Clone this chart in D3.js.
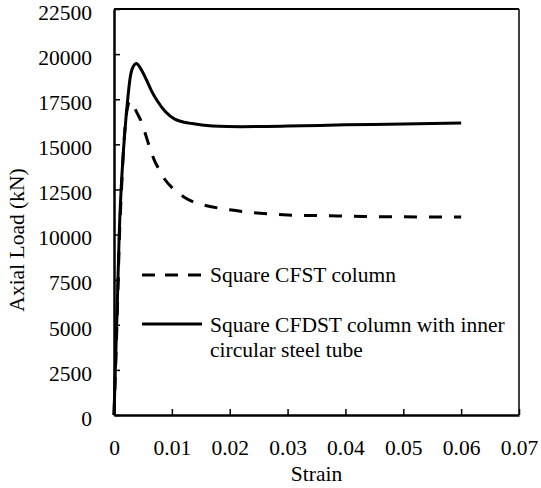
<!DOCTYPE html>
<html>
<head>
<meta charset="utf-8">
<script src="https://cdn.jsdelivr.net/npm/d3@7"></script>
<style>
  html, body { margin: 0; padding: 0; background: #fff; }
  svg { display: block; }
  svg text { font-family: "Liberation Serif", "Times New Roman", Tinos, "DejaVu Serif", serif; fill: #000; }
</style>
</head>
<body>
<svg id="chart" width="541" height="488"></svg>
<script>
// Axial load–strain response of the two column types
const cfstStrain = [0, 0.0006, 0.0009, 0.0013, 0.0017, 0.0022, 0.0028, 0.0033, 0.0038, 0.0048, 0.0055, 0.0062,
  0.007, 0.0078, 0.0088, 0.0102, 0.012, 0.0138, 0.016, 0.018, 0.02, 0.0247, 0.03, 0.0344, 0.0385, 0.043, 0.06];
const cfstLoad = [0, 6000, 9500, 12500, 15000, 16800, 17400, 17250, 16860, 16200, 15500, 14800,
  14100, 13600, 13050, 12550, 12100, 11800, 11600, 11470, 11370, 11200, 11085, 11055, 11030, 11000, 10970];

const cfdstStrain = [0, 0.0006, 0.0009, 0.0012, 0.0015, 0.0019, 0.0024, 0.0028, 0.0033, 0.0039, 0.0045, 0.0055,
  0.0065, 0.0075, 0.0089, 0.0105, 0.0135, 0.017, 0.022, 0.03, 0.04, 0.05, 0.06];
const cfdstLoad = [0, 6500, 10000, 12300, 14000, 15800, 17600, 18700, 19300, 19480, 19250, 18650,
  17950, 17400, 16800, 16400, 16150, 16020, 15980, 16010, 16080, 16130, 16180];

const xTicks = [0, 0.01, 0.02, 0.03, 0.04, 0.05, 0.06, 0.07];
const yTicks = [0, 2500, 5000, 7500, 10000, 12500, 15000, 17500, 20000, 22500];

const seriesNames = ["Square CFST column", "Square CFDST column with inner", "circular steel tube"];

const svg = d3.select("#chart");
const plot = { left: 114, right: 519, top: 9, bottom: 415 };
const serif = '"Liberation Serif", "Times New Roman", Tinos, "DejaVu Serif", serif';

const x = d3.scaleLinear().domain([0, 0.07]).range([plot.left, plot.right]);
const y = d3.scaleLinear().domain([0, 22500]).range([plot.bottom, plot.top]);

const fontSize = 21.5;

// Frame
svg.append("line").attr("x1", plot.left).attr("x2", plot.right).attr("y1", plot.top).attr("y2", plot.top)
  .attr("stroke", "#000").attr("stroke-width", 2);
svg.append("line").attr("x1", plot.right).attr("x2", plot.right).attr("y1", plot.top).attr("y2", plot.bottom)
  .attr("stroke", "#000").attr("stroke-width", 1.5);

// Axes with inward ticks
const xAxis = d3.axisBottom(x).tickValues(xTicks).tickSizeInner(-6).tickSizeOuter(0)
  .tickPadding(25).tickFormat(d => d === 0 ? "0" : d3.format(".2f")(d));
const gx = svg.append("g").attr("transform", `translate(0,${plot.bottom})`).call(xAxis)
  .attr("font-family", serif).attr("font-size", fontSize);
gx.select(".domain").attr("stroke-width", 2.5);
gx.selectAll(".tick line").attr("stroke-width", 1.5);

const yAxis = d3.axisLeft(y).tickValues(yTicks).tickSizeInner(-6).tickSizeOuter(0)
  .tickPadding(22).tickFormat(d3.format("d"));
const gy = svg.append("g").attr("transform", `translate(${plot.left},0)`).call(yAxis)
  .attr("font-family", serif).attr("font-size", fontSize);
gy.select(".domain").attr("stroke-width", 2.5);
gy.selectAll(".tick line").attr("stroke-width", 1.5);
gy.selectAll(".tick text").attr("dy", "0.48em");

// Axis titles
svg.append("text").attr("x", (plot.left + plot.right) / 2).attr("y", 481)
  .attr("text-anchor", "middle").attr("font-size", fontSize).text("Strain");
svg.append("text").attr("transform", "translate(24,240) rotate(-90)")
  .attr("text-anchor", "middle").attr("font-size", fontSize).text("Axial Load (kN)");

// Curves
const line = d3.line().x(d => x(d[0])).y(d => y(d[1])).curve(d3.curveMonotoneX);
const cfst = cfstStrain.map((s, i) => [s, cfstLoad[i]]);
const cfdst = cfdstStrain.map((s, i) => [s, cfdstLoad[i]]);

svg.append("path").datum(cfst).attr("d", line).attr("fill", "none")
  .attr("stroke", "#000").attr("stroke-width", 3).attr("stroke-dasharray", "13,12");
svg.append("path").datum(cfdst).attr("d", line).attr("fill", "none")
  .attr("stroke", "#000").attr("stroke-width", 3);

// Legend
const lg = svg.append("g");
lg.append("line").attr("x1", 142).attr("x2", 202).attr("y1", 275).attr("y2", 275)
  .attr("stroke", "#000").attr("stroke-width", 3).attr("stroke-dasharray", "13,10");
lg.append("text").attr("x", 210).attr("y", 282).attr("font-size", fontSize).text(seriesNames[0]);
lg.append("line").attr("x1", 142).attr("x2", 202).attr("y1", 324).attr("y2", 324)
  .attr("stroke", "#000").attr("stroke-width", 3);
lg.append("text").attr("x", 210).attr("y", 332).attr("font-size", fontSize).text(seriesNames[1]);
lg.append("text").attr("x", 210).attr("y", 357).attr("font-size", fontSize).text(seriesNames[2]);
</script>
</body>
</html>
